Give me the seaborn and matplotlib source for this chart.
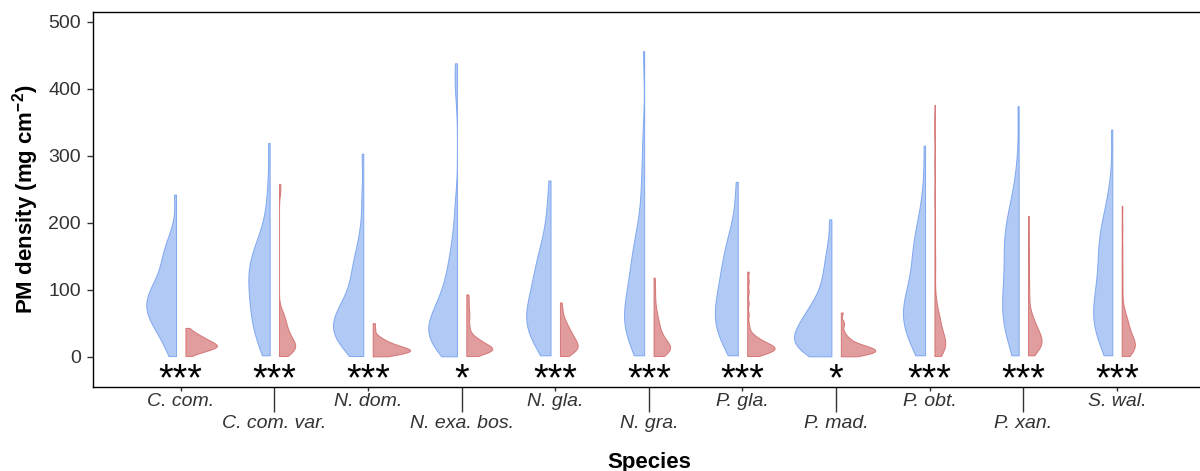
import numpy as np
import pandas as pd
import matplotlib
matplotlib.use("Agg")
import matplotlib.pyplot as plt
import seaborn as sns

species = ["C. com.", "C. com. var.", "N. dom.", "N. exa. bos.", "N. gla.", "N. gra.",
           "P. gla.", "P. mad.", "P. obt.", "P. xan.", "S. wal."]
groups = ["Group 1", "Group 2"]
signif = ["***", "***", "***", "*", "***", "***", "***", "*", "***", "***", "***"]

# PM density (mg cm-2) observations, group 1 (blue) and group 2 (red)
c_com_1 = [1, 9, 17, 25, 33, 38, 42, 46, 50, 54, 58, 61, 63, 66, 69, 72, 75, 78, 81, 84, 87, 89,
           92, 95, 99, 103, 107, 111, 115, 119, 125, 133, 140, 147, 152, 158, 165, 174, 190, 242]
c_com_2 = [1, 4, 6, 7, 8, 9, 10, 11, 12, 12.5, 13, 13.5, 14, 14.5, 15, 16, 16.5, 17, 17.5, 18,
           19, 19.5, 20, 21, 22, 22.5, 23, 24, 24.5, 26, 27, 28, 29, 30, 31, 33, 34.5, 36, 39, 43]
c_var_1 = [2, 10, 18, 26, 33, 38, 43, 48, 53, 57, 63, 68, 73, 78, 83, 88, 92, 96, 101, 106, 110,
           115, 119, 123, 127, 131, 135, 139, 143, 147, 152, 157, 163, 169, 176, 186, 199, 224,
           258, 319]
c_var_2 = [1, 4, 5.5, 6.5, 7.5, 8.5, 9.5, 10, 11, 12, 12.5, 13.5, 14.5, 15.5, 16.5, 17.5, 18.5,
           19.5, 21, 22.5, 24, 25.5, 27, 28, 29.5, 31, 33, 35, 37, 39, 41.5, 44, 46, 49, 52, 55,
           58, 61, 64, 69, 247, 258]
n_dom_1 = [1, 6, 10, 14, 18, 21, 24, 27, 31, 33, 36, 38, 41, 43, 46, 48, 51, 53, 56, 59, 62, 65,
           69, 72, 76, 79, 83, 87, 94, 102, 109, 116, 124, 131, 138, 146, 157, 170, 195, 240, 303]
n_dom_2 = [0.5, 1.5, 2.5, 3, 4, 4.5, 5.5, 6, 6.5, 7, 7.5, 8, 8.5, 9, 9.5, 10, 10.5, 11, 11.5, 12,
           12.5, 13, 13.5, 14.5, 15.5, 16, 17, 18, 18.5, 19.5, 20.5, 22, 23.5, 25, 27, 29, 33,
           41, 50]
n_exa_1 = [0.5, 4, 7, 11, 14, 18, 21, 25, 28, 31, 33, 36, 38, 41, 43, 46, 49, 52, 55, 58, 62, 66,
           70, 74, 78, 83, 88, 94, 101, 108, 116, 124, 134, 144, 157, 172, 193, 228, 400, 438]
n_exa_2 = [1, 3, 4.5, 5.5, 6.5, 7, 7.5, 8.5, 9, 9.5, 10, 10.5, 11, 11.5, 12, 12.5, 13.5, 14.5,
           15.5, 16, 17, 18, 18.5, 19.5, 21, 22.5, 24, 25.5, 27, 28.5, 30, 35, 41, 47, 55, 62,
           68, 76, 85, 93]
n_gla_1 = [2, 9, 15, 21, 26, 32, 35, 38, 41, 44, 47, 50, 54, 58, 62, 65, 69, 72, 76, 80, 84, 88,
           93, 98, 103, 108, 113, 118, 124, 130, 136, 142, 148, 154, 163, 174, 186, 205, 228, 263]
n_gla_2 = [1, 2.5, 4, 5.5, 7, 8, 9.5, 10.5, 11.5, 12.5, 13.5, 14.5, 15, 16, 17, 18, 19, 20.5, 22,
           23, 24.5, 25.5, 27, 28, 29.5, 31, 33, 35, 36.5, 38, 39.5, 42, 45, 47.5, 49.5, 53, 57,
           64, 72, 81]
n_gra_1 = [2, 9, 15, 21, 27, 31, 34, 38, 42, 46, 50, 54, 58, 62, 66, 70, 74, 78, 83, 88, 94, 100,
           106, 112, 118, 125, 132, 140, 147, 153, 160, 167, 175, 186, 200, 225, 255, 285, 330,
           456]
n_gra_2 = [1, 2.5, 4, 5.5, 6.5, 7.5, 8.5, 9.5, 10, 10.5, 11.5, 12, 12.5, 13.5, 14.5, 15.5, 16.5,
           17, 18, 19, 21, 23, 25, 27, 29, 31, 34, 37, 40, 43, 46, 49, 53, 58, 63, 68, 78, 91,
           104, 118]
p_gla_1 = [2, 8, 14, 20, 26, 32, 35, 39, 43, 47, 50, 54, 58, 62, 65, 69, 73, 77, 81, 85, 89, 94,
           99, 104, 109, 114, 119, 124, 130, 136, 142, 148, 154, 161, 168, 176, 185, 197, 225, 261]
p_gla_2 = [1, 2, 3.5, 4.5, 5.5, 6.5, 7.5, 8, 9, 9.5, 10, 10.5, 11, 12, 12.5, 13, 14, 14.5, 15,
           16, 16.5, 17.5, 18, 19, 19.5, 21, 22, 23.5, 25, 26.5, 28, 29.5, 33, 38, 48, 63, 80,
           97, 112, 127]
p_mad_1 = [0.5, 2.5, 5, 7, 9, 11, 13.5, 16, 18.5, 21, 23, 25, 27, 29, 31, 33.5, 36, 38.5, 41, 44,
           47, 50, 53, 56, 59, 62, 66, 70, 74, 78, 83, 89, 95, 104, 114, 125, 135, 150, 168, 205]
p_mad_2 = [0.5, 1.5, 2, 3, 3.5, 4.5, 5, 5.5, 6, 6.5, 7, 7.5, 8, 8.5, 9.5, 10, 10.5, 11, 11.5, 12,
           12.5, 13, 13.5, 14.5, 15.5, 16, 17, 18, 18.5, 19.5, 21, 23, 25, 27, 29, 33, 38, 47,
           52, 66]
p_obt_1 = [2, 10, 16, 21, 26, 33, 37, 41, 45, 49, 53, 56, 59, 62, 66, 70, 74, 78, 82, 86, 89, 93,
           99, 105, 111, 117, 126, 134, 142, 149, 155, 162, 168, 175, 184, 193, 203, 222, 252, 315]
p_obt_2 = [1, 4, 6, 7.5, 9, 10.5, 12, 13, 14.5, 15.5, 17, 18, 19.5, 20.5, 22, 23.5, 25, 26.5, 28,
           29.5, 32, 35, 38, 41, 45, 48, 52, 55, 58, 61, 64, 70, 76, 98, 128, 152, 183, 215, 262,
           310, 376]
p_xan_1 = [2, 12, 22, 32, 37, 42, 47, 52, 57, 62, 67, 72, 77, 82, 87, 93, 99, 105, 111, 117, 125,
           133, 141, 148, 153, 159, 165, 171, 177, 182, 188, 194, 200, 206, 215, 224, 234, 254,
           285, 374]
p_xan_2 = [2, 5, 7.5, 9, 11, 12.5, 14, 15.5, 17, 18, 19.5, 20.5, 21.5, 23, 24, 25.5, 27, 28,
           29.5, 31, 33, 35, 36.5, 38, 39.5, 42, 44.5, 47, 49.5, 53, 57, 60, 64, 78, 95, 113, 135,
           158, 183, 210]
s_wal_1 = [2, 11, 19, 26, 32, 36, 40, 44, 48, 52, 57, 62, 66, 70, 74, 78, 82, 87, 93, 99, 105,
           111, 117, 125, 133, 140, 147, 153, 159, 165, 171, 177, 183, 190, 197, 205, 218, 232,
           256, 339]
s_wal_2 = [1, 3, 4.5, 6, 7.5, 9, 10.5, 11.5, 12.5, 13.5, 14.5, 15.5, 16.5, 17.5, 19, 20.5, 22,
           23.5, 25, 26.5, 28, 29.5, 32, 34.5, 37, 39.5, 42, 45.5, 49, 52, 55, 58, 61, 64, 80,
           105, 131, 160, 192, 225]

values_1 = [c_com_1, c_var_1, n_dom_1, n_exa_1, n_gla_1, n_gra_1,
            p_gla_1, p_mad_1, p_obt_1, p_xan_1, s_wal_1]
values_2 = [c_com_2, c_var_2, n_dom_2, n_exa_2, n_gla_2, n_gra_2,
            p_gla_2, p_mad_2, p_obt_2, p_xan_2, s_wal_2]

rows = []
for sp, v1, v2 in zip(species, values_1, values_2):
    rows += [(sp, groups[0], v) for v in v1]
    rows += [(sp, groups[1], v) for v in v2]
df = pd.DataFrame(rows, columns=["Species", "Group", "PM"])


def nrd0(kde):
    """R's default bandwidth (bw.nrd0) expressed as a gaussian_kde factor."""
    x = np.asarray(kde.dataset).ravel()
    sd = np.std(x, ddof=1)
    q75, q25 = np.percentile(x, [75, 25])
    lo = min(sd, (q75 - q25) / 1.34)
    return 0.9 * lo * len(x) ** (-0.2) / sd


sns.set_theme(style="ticks")
plt.rcParams["font.family"] = ["Liberation Sans", "DejaVu Sans"]
plt.rcParams["mathtext.fontset"] = "custom"
plt.rcParams["mathtext.rm"] = "Liberation Sans"
plt.rcParams["mathtext.it"] = "Liberation Sans:italic"
plt.rcParams["mathtext.bf"] = "Liberation Sans:bold"

blue = "#6495ED"
red = "#CD5C5C"
text_col = "#333333"

fig = plt.figure(figsize=(12, 4.71), dpi=100)
ax = fig.add_axes([93 / 1200, (471 - 386.7) / 471, 1112 / 1200, 375 / 471])

sns.violinplot(data=df, x="Species", y="PM", hue="Group", order=species, hue_order=groups,
               split=True, gap=0.2, width=1.0, inner=None, cut=0, gridsize=512,
               density_norm="area", common_norm=False, bw_method=nrd0,
               palette=[blue, red], linewidth=0.7, legend=False, ax=ax)

for coll in ax.collections:
    fc = np.array(coll.get_facecolor()).reshape(-1, 4)[0]
    is_blue = fc[2] > fc[0]
    base = matplotlib.colors.to_rgba(blue if is_blue else red)
    coll.set_edgecolor((base[0], base[1], base[2], 0.75))
    coll.set_facecolor((base[0], base[1], base[2], 0.5 if is_blue else 0.6))

pos = np.arange(len(species))
for p, s in zip(pos, signif):
    ax.text(p, -49.5, s, ha="center", va="baseline", fontsize=27, color="black",
            clip_on=False)

ax.set_xlim(pos[0] - 0.937, pos[0] + 10.94)
ax.set_ylim(-44.8, 515)
ax.set_yticks([0, 100, 200, 300, 400, 500])

ax.set_xticks(pos[0::2], labels=species[0::2])
ax.set_xticks(pos[1::2], labels=species[1::2], minor=True)
ax.tick_params(axis="x", which="major", length=2.6, width=1.0, pad=2.2, labelsize=14,
               color=text_col, labelcolor=text_col)
ax.tick_params(axis="x", which="minor", length=18, width=1.0, pad=2.2, labelsize=14,
               color=text_col, labelcolor=text_col)
for lab in ax.get_xticklabels(which="both"):
    lab.set_fontstyle("italic")
ax.tick_params(axis="y", length=4.3, width=1.0, pad=4.5, labelsize=14, color=text_col,
               labelcolor=text_col)

for sp in ax.spines.values():
    sp.set_visible(True)
    sp.set_linewidth(1.0)
    sp.set_color("black")

ax.set_ylabel(r"PM density (mg cm$^{\mathregular{-2}}$)", fontsize=16, fontweight="bold",
              color="black")
ax.yaxis.set_label_coords((41 - 93) / 1112, 0.5)
ax.set_xlabel("Species", fontsize=16, fontweight="bold", color="black")
ax.xaxis.set_label_coords(0.5, (386.7 - 452) / 375)

fig.savefig("out.png", dpi=100)
